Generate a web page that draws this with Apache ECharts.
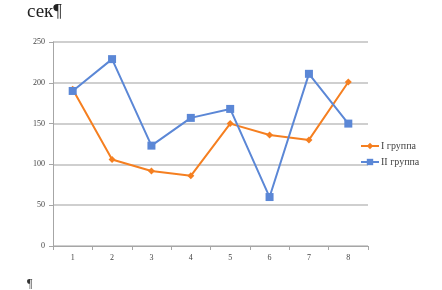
<!DOCTYPE html>
<html><head><meta charset="utf-8">
<script src="https://cdn.jsdelivr.net/npm/echarts@6/dist/echarts.min.js"></script>
<style>html,body{margin:0;padding:0;background:#fff}#c{width:442px;height:290px}</style>
</head><body><div id="c"></div>
<script>
var categories = ['1','2','3','4','5','6','7','8'];
var group1 = [192, 106, 92, 86, 150, 136, 130, 201];
var group2 = [190, 229, 123, 157, 168, 60, 211, 150];
var seriesNames = ['I группа', 'II группа'];
var titleText = 'сек¶';
var chart = echarts.init(document.getElementById('c'));
var serif = 'Liberation Serif, DejaVu Serif, serif';
chart.setOption({
  animation: false,
  graphic: [
    {type:'text', left: 27, top: 3, style:{text: titleText, font: '19px ' + serif, fill:'#222'}},
    {type:'text', left: 27, top: 278, style:{text: '¶', font: '12px ' + serif, fill:'#333'}}
  ],
  legend: {
    orient: 'vertical', left: 355, top: 136, itemGap: 6, itemWidth: 18, itemHeight: 8,
    textStyle: {fontFamily: serif, fontSize: 10, color: '#444', padding:[0,0,0,-3]},
    data: seriesNames
  },
  grid: {left: 53, top: 42, width: 315, height: 204, containLabel: false},
  xAxis: {
    type: 'category', data: categories, boundaryGap: true,
    axisLine: {lineStyle: {color: '#a6a6a6', width: 1}},
    axisTick: {show: true, length: 4, lineStyle:{color:'#a6a6a6'}},
    axisLabel: {fontFamily: serif, fontSize: 8, color: '#444', margin: 8}
  },
  yAxis: {
    type: 'value', min: 0, max: 250, interval: 50,
    axisLine: {show: true, lineStyle: {color: '#a6a6a6', width: 1}},
    axisTick: {show: true, length: 4, lineStyle:{color:'#a6a6a6'}},
    axisLabel: {fontFamily: serif, fontSize: 8, color: '#444', margin: 8},
    splitLine: {lineStyle: {color: '#bfbfbf', width: 1.5}}
  },
  series: [
    {name: seriesNames[0], type: 'line', data: group1, symbol: 'diamond', symbolSize: 7,
     lineStyle: {color: '#f57f20', width: 2}, itemStyle: {color: '#f57f20'}},
    {name: seriesNames[1], type: 'line', data: group2, symbol: 'rect', symbolSize: 8,
     lineStyle: {color: '#5b87d6', width: 2}, itemStyle: {color: '#5b87d6'}}
  ]
});
</script></body></html>
